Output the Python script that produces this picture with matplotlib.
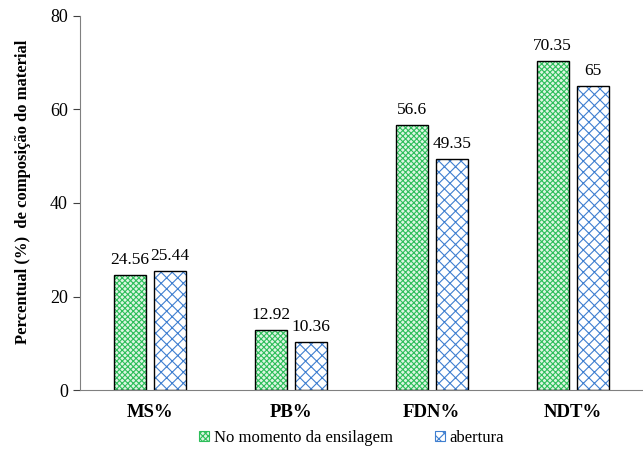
import numpy as np
import matplotlib.pyplot as plt

plt.rcParams['font.family'] = ['Liberation Serif', 'DejaVu Serif']
plt.rcParams['hatch.linewidth'] = 0.8

# dados
categorias = ['MS%', 'PB%', 'FDN%', 'NDT%']
ensilagem = [24.56, 12.92, 56.6, 70.35]
abertura = [25.44, 10.36, 49.35, 65]
rotulos_ens = ['24.56', '12.92', '56.6', '70.35']
rotulos_abe = ['25.44', '10.36', '49.35', '65']

fig = plt.figure(figsize=(6.43, 4.51), dpi=100)
ax = fig.add_axes([0.124, 0.135, 0.876, 0.83])

x = np.arange(len(categorias))
w = 0.227
off = 0.142
b1 = ax.bar(x - off, ensilagem, w, facecolor='#DDF5E3', edgecolor='#2DBE5A',
            hatch='xxxxxx', linewidth=0, label='No momento da ensilagem')
b2 = ax.bar(x + off, abertura, w, facecolor='white', edgecolor='#3F7FD0',
            hatch='xxx', linewidth=0, label='abertura')
# contorno preto
ax.bar(x - off, ensilagem, w, fill=False, edgecolor='black', linewidth=1.0)
ax.bar(x + off, abertura, w, fill=False, edgecolor='black', linewidth=1.0)

for xi, v, t in zip(x - off, ensilagem, rotulos_ens):
    ax.text(xi, v + 1.5, t, ha='center', va='bottom', fontsize=12.5)
for xi, v, t in zip(x + off, abertura, rotulos_abe):
    ax.text(xi, v + 1.5, t, ha='center', va='bottom', fontsize=12.5)

ax.set_xlim(-0.5, 3.5)
ax.set_ylim(0, 80)
ax.set_yticks([0, 20, 40, 60, 80])
ax.set_xticks(x)
ax.set_xticklabels(categorias, fontweight='bold', fontsize=13.5)
ax.tick_params(axis='x', length=0, pad=10)
ax.tick_params(axis='y', labelsize=13, direction='out', length=5, width=0.8, colors='#404040')
for lab in ax.get_yticklabels():
    lab.set_color('black')
ax.spines['top'].set_visible(False)
ax.spines['right'].set_visible(False)
ax.spines['left'].set_color('#808080')
ax.spines['bottom'].set_color('#808080')
ax.set_ylabel('Percentual (%)  de composição do material', fontweight='bold', fontsize=12)
ax.yaxis.set_label_coords(-0.087, 0.53)

leg = fig.legend(handles=[b1, b2], loc='lower center', bbox_to_anchor=(0.547, -0.022), ncol=2,
                 frameon=False, fontsize=12, handlelength=0.6, handleheight=0.6,
                 handletextpad=0.3, columnspacing=2.5)
for h in leg.legend_handles:
    h.set_linewidth(0.8)

fig.savefig('out.png', dpi=100)
